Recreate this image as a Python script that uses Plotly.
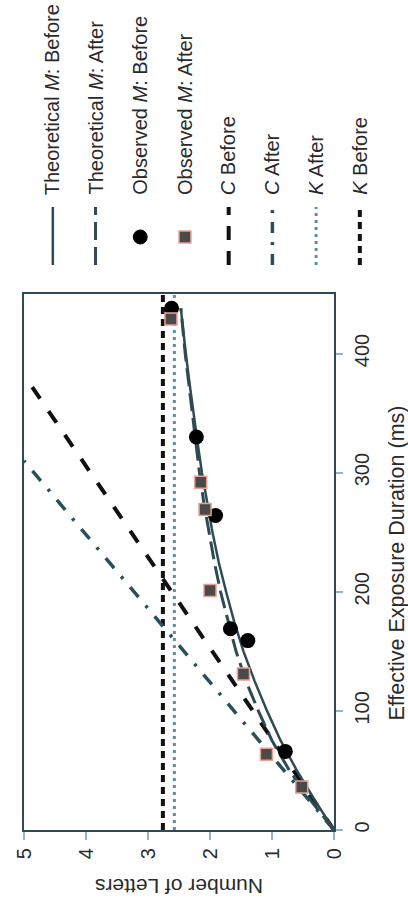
import plotly.graph_objects as go

# ---------------- data ----------------
ms_theory = [0, 25, 50, 75, 100, 125, 150, 175, 200, 225, 250, 275, 300, 325, 350, 375, 400, 438]
theory_before = [0, 0.31, 0.60, 0.86, 1.08, 1.28, 1.46, 1.61, 1.74, 1.86, 1.96, 2.05, 2.13, 2.20, 2.27, 2.33, 2.39, 2.47]
theory_after = [0, 0.38, 0.72, 1.00, 1.22, 1.42, 1.58, 1.71, 1.83, 1.93, 2.02, 2.10, 2.17, 2.23, 2.29, 2.35, 2.40, 2.47]

obs_before_ms = [66, 159, 169, 264, 330, 438]
obs_before_n = [0.785, 1.39, 1.67, 1.91, 2.22, 2.62]
obs_after_ms = [36, 63.5, 131, 201, 269, 292, 429]
obs_after_n = [0.52, 1.09, 1.46, 2.00, 2.08, 2.15, 2.63]

c_before_ms = [0, 382]
c_before_n = [0, 5]
c_after_ms = [0, 310]
c_after_n = [0, 5]
k_ms = [0, 450]
k_before_n = [2.76, 2.76]
k_after_n = [2.575, 2.575]

letters_ticks = [0, 1, 2, 3, 4, 5]
ms_ticks = [0, 100, 200, 300, 400]

legend_labels = [
    "Theoretical <i>M</i>: Before",
    "Theoretical <i>M</i>: After",
    "Observed <i>M</i>: Before",
    "Observed <i>M</i>: After",
    "<i>C</i> Before",
    "<i>C</i> After",
    "<i>K</i> After",
    "<i>K</i> Before",
]

# ---------------- style ----------------
W, H = 408, 907
L, R, T, B = 22, 74, 294, 77
PW, PH = W - L - R, H - T - B
FONT = "Liberation Sans, Arial, Helvetica, sans-serif"
DARK = "#2e4b54"
TEAL = "#28505c"
DOT = "#5b8fa8"
TICK = "#8db4cc"
TXT = "#2a2a2a"


def px(x):
    return (x - L) / PW


def py(y):
    return (H - B - y) / PH


fig = go.Figure()

fig.add_trace(go.Scatter(x=k_before_n, y=k_ms, mode="lines",
                         line=dict(color="#111111", width=4, dash="7px,5px")))
fig.add_trace(go.Scatter(x=k_after_n, y=k_ms, mode="lines",
                         line=dict(color=DOT, width=3, dash="3px,4px")))
fig.add_trace(go.Scatter(x=c_before_n, y=c_before_ms, mode="lines",
                         line=dict(color="#111111", width=4, dash="14px,15px")))
fig.add_trace(go.Scatter(x=c_after_n, y=c_after_ms, mode="lines",
                         line=dict(color=TEAL, width=3.5, dash="13px,11px,3px,11px")))
fig.add_trace(go.Scatter(x=theory_before, y=ms_theory, mode="lines",
                         line=dict(color=DARK, width=2.5)))
fig.add_trace(go.Scatter(x=theory_after, y=ms_theory, mode="lines",
                         line=dict(color=DARK, width=3, dash="18px,7px")))
fig.add_trace(go.Scatter(x=obs_before_n, y=obs_before_ms, mode="markers",
                         marker=dict(color="#000000", size=15, symbol="circle")))
fig.add_trace(go.Scatter(x=obs_after_n, y=obs_after_ms, mode="markers",
                         marker=dict(color="#4a4a4a", size=12, symbol="square",
                                     line=dict(color="#e8a090", width=1.5))))

fig.update_traces(showlegend=False, hoverinfo="skip", cliponaxis=True)

fig.update_xaxes(range=[5, 0], tickvals=letters_ticks, ticktext=[str(v) for v in letters_ticks],
                 tickangle=-90, ticks="outside", ticklen=8, tickwidth=2, tickcolor=TICK,
                 showline=True, mirror=True, linecolor=DARK, linewidth=2,
                 showgrid=False, zeroline=False,
                 tickfont=dict(family=FONT, size=20, color=TXT))
fig.update_yaxes(range=[0, 450], tickvals=ms_ticks, ticktext=[str(v) for v in ms_ticks],
                 side="right", tickangle=-90, ticks="outside", ticklen=7, tickwidth=2, tickcolor=TICK,
                 ticklabelstandoff=2,
                 showline=True, mirror=True, linecolor=DARK, linewidth=2,
                 showgrid=False, zeroline=False,
                 tickfont=dict(family=FONT, size=20, color=TXT))

shapes = []
annotations = []

# axis titles
annotations.append(dict(text="Number of Letters", x=px(178), y=py(887), xref="paper", yref="paper",
                        textangle=180, showarrow=False, xanchor="center", yanchor="middle",
                        font=dict(family=FONT, size=21, color=TXT)))
annotations.append(dict(text="Effective Exposure Duration (ms)", x=px(397), y=py(563),
                        xref="paper", yref="paper", textangle=-90, showarrow=False,
                        xanchor="center", yanchor="middle",
                        font=dict(family=FONT, size=21.5, color=TXT)))

# legend (rotated)
leg_x = [51, 94, 139, 184, 228, 272, 316, 360]
for lx, lab in zip(leg_x, legend_labels):
    annotations.append(dict(text=lab, x=px(lx), y=py(197), xref="paper", yref="paper",
                            textangle=-90, showarrow=False, xanchor="center", yanchor="bottom",
                            font=dict(family=FONT, size=20, color=TXT)))

seg_styles = [
    (DARK, 2.5, "solid"),
    (DARK, 3, "18px,7px"),
    None,
    None,
    ("#111111", 4, "14px,11px"),
    (TEAL, 3.5, "11px,9px,3px,9px"),
    (DOT, 3, "3px,4px"),
    ("#111111", 4, "7px,5px"),
]
for lx, st in zip(leg_x, seg_styles):
    if st is None:
        continue
    col, wd, dsh = st
    shapes.append(dict(type="line", xref="paper", yref="paper",
                       x0=px(lx), x1=px(lx), y0=py(265), y1=py(207),
                       line=dict(color=col, width=wd, dash=dsh)))
# circle marker
shapes.append(dict(type="circle", xref="paper", yref="paper",
                   x0=px(leg_x[2] - 7), x1=px(leg_x[2] + 7), y0=py(244), y1=py(230),
                   fillcolor="#000000", line=dict(color="#000000", width=1)))
# square marker
shapes.append(dict(type="rect", xref="paper", yref="paper",
                   x0=px(leg_x[3] - 6), x1=px(leg_x[3] + 6), y0=py(243), y1=py(231),
                   fillcolor="#4a4a4a", line=dict(color="#e8a090", width=1.5)))

fig.update_layout(width=W, height=H, autosize=False,
                  margin=dict(l=L, r=R, t=T, b=B, pad=0),
                  paper_bgcolor="white", plot_bgcolor="white",
                  showlegend=False, shapes=shapes, annotations=annotations)

fig.write_html("out.html", config={"displayModeBar": False},
               post_script="document.body.style.margin='0';document.body.style.overflow='hidden';")
